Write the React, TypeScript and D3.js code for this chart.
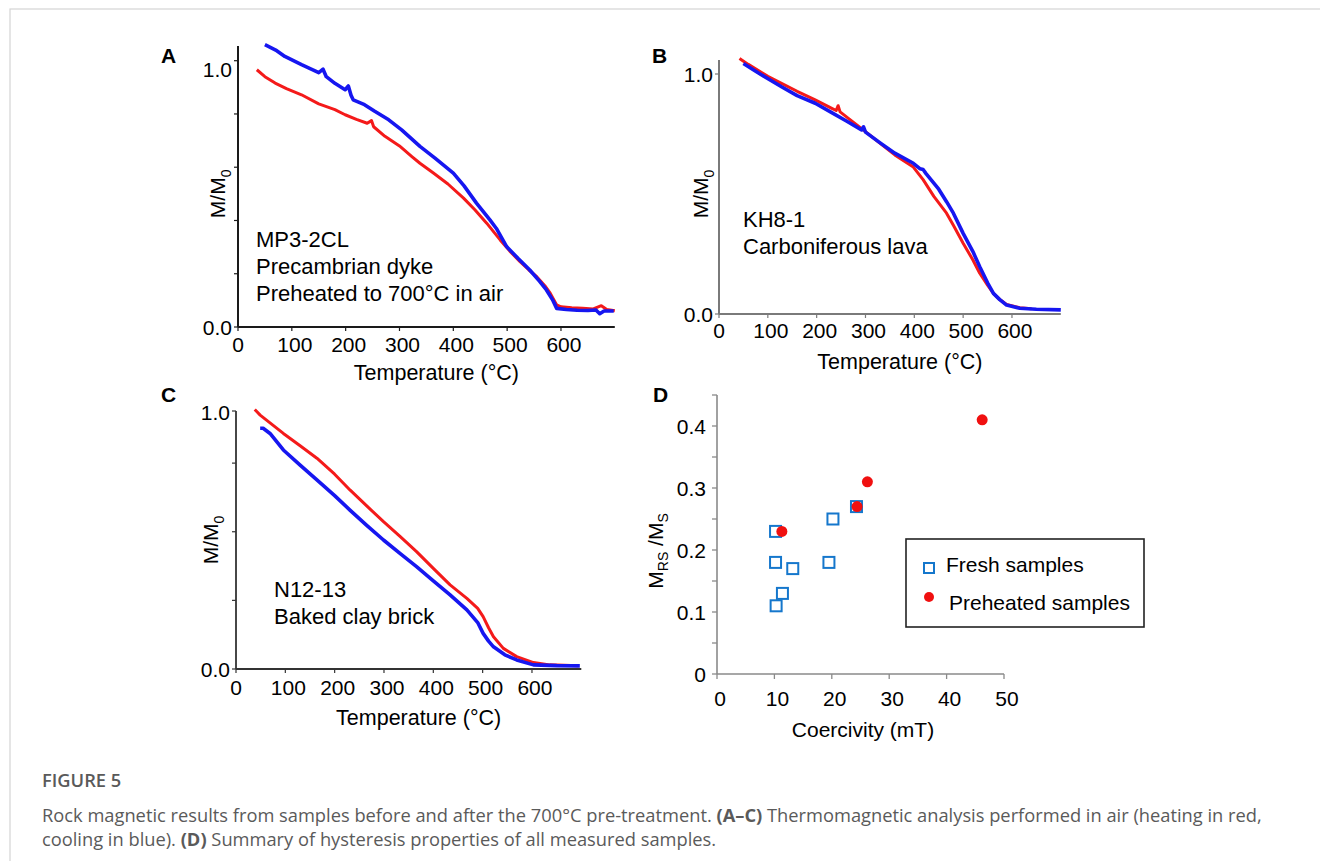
import React from "react";
import * as d3 from "d3";

// Panel A: MP3-2CL
const aHeatT = [35, 50, 69, 90, 118, 150, 180, 199, 220, 240, 248, 252, 273, 300, 323, 338, 363, 390, 419, 440, 462, 487, 505, 524, 540, 555, 570, 580, 592, 600, 620, 640, 660, 675, 685, 700];
const aHeatM = [0.966, 0.94, 0.916, 0.895, 0.872, 0.838, 0.816, 0.797, 0.78, 0.765, 0.775, 0.752, 0.716, 0.68, 0.64, 0.615, 0.578, 0.537, 0.484, 0.44, 0.39, 0.327, 0.285, 0.245, 0.215, 0.189, 0.155, 0.127, 0.083, 0.076, 0.072, 0.07, 0.068, 0.08, 0.066, 0.061];
const aCoolT = [50, 70, 87, 118, 140, 150, 158, 164, 180, 199, 205, 210, 214, 235, 254, 280, 304, 338, 366, 400, 420, 443, 468, 480, 499, 520, 542, 560, 573, 585, 592, 610, 630, 650, 665, 672, 680, 698];
const aCoolM = [1.06, 1.04, 1.016, 0.985, 0.965, 0.955, 0.968, 0.94, 0.915, 0.891, 0.905, 0.87, 0.853, 0.835, 0.81, 0.778, 0.74, 0.678, 0.634, 0.578, 0.53, 0.465, 0.402, 0.37, 0.302, 0.258, 0.214, 0.172, 0.139, 0.1, 0.07, 0.066, 0.063, 0.062, 0.064, 0.05, 0.06, 0.06];

// Panel B: KH8-1
const bHeatT = [42, 60, 100, 128, 160, 197, 230, 240, 244, 248, 265, 300, 330, 360, 398, 418, 440, 466, 480, 500, 520, 534, 550, 562, 575, 589, 616, 640];
const bHeatM = [1.065, 1.04, 0.99, 0.961, 0.928, 0.892, 0.858, 0.848, 0.868, 0.842, 0.815, 0.76, 0.711, 0.663, 0.612, 0.56, 0.49, 0.42, 0.37, 0.295, 0.225, 0.17, 0.12, 0.086, 0.06, 0.04, 0.026, 0.022];
const bCoolT = [50, 80, 128, 160, 197, 230, 260, 292, 296, 300, 330, 360, 398, 412, 418, 424, 450, 466, 480, 500, 520, 534, 550, 562, 575, 589, 616, 650, 700];
const bCoolM = [1.044, 1.005, 0.947, 0.91, 0.878, 0.84, 0.805, 0.767, 0.78, 0.758, 0.713, 0.67, 0.628, 0.605, 0.602, 0.585, 0.52, 0.468, 0.42, 0.336, 0.26, 0.197, 0.13, 0.086, 0.06, 0.037, 0.024, 0.02, 0.017];

// Panel C: N12-13
const cHeatT = [38, 49, 96, 130, 164, 200, 231, 265, 299, 333, 366, 400, 434, 468, 490, 501, 512, 522, 542, 569, 603, 636, 694];
const cHeatM = [1.006, 0.984, 0.913, 0.865, 0.817, 0.755, 0.694, 0.632, 0.571, 0.513, 0.455, 0.39, 0.326, 0.274, 0.235, 0.203, 0.16, 0.125, 0.08, 0.048, 0.025, 0.016, 0.013];
const cCoolT = [49, 55, 69, 96, 130, 164, 200, 231, 265, 299, 333, 366, 400, 434, 468, 490, 501, 512, 522, 545, 569, 603, 650, 697];
const cCoolM = [0.933, 0.933, 0.913, 0.849, 0.79, 0.733, 0.672, 0.616, 0.557, 0.5, 0.447, 0.397, 0.342, 0.287, 0.229, 0.18, 0.138, 0.108, 0.086, 0.055, 0.035, 0.016, 0.013, 0.012];

// Panel D: hysteresis summary
const freshX = [10.2, 10.2, 13.2, 11.4, 10.3, 20.2, 19.5, 24.3];
const freshY = [0.23, 0.18, 0.17, 0.13, 0.11, 0.25, 0.18, 0.27];
const preX = [11.3, 24.4, 26.2, 46.2];
const preY = [0.23, 0.27, 0.31, 0.41];

const tempTicks = [0, 100, 200, 300, 400, 500, 600];
const coerTicks = [0, 10, 20, 30, 40, 50];
const ratioTicks = [0, 0.1, 0.2, 0.3, 0.4];

const FONT = "'Liberation Sans', Arial, sans-serif";
const RED = "#f41a1a";
const BLUE = "#1616f0";

const zip = (t: number[], m: number[]) => t.map((v, i) => [v, m[i]] as [number, number]);

type PanelProps = {
  letter: string;
  x0: number; x1: number; y0: number; y1: number; yTop: number;
  heat: [number, number][];
  cool: [number, number][];
  minorY: number[];
  axisColor: string;
  axisWidth: number;
  lines: string[];
  noteX: number; noteY: number;
  letterX: number; letterY: number;
  oneDy: number;
  xLabDy: number;
  titleY: number;
  yLabX: number;
};

function ThermoPanel(p: PanelProps) {
  const x = d3.scaleLinear().domain([0, 700]).range([p.x0, p.x1]);
  const y = d3.scaleLinear().domain([0, 1]).range([p.y0, p.y1]);
  const line = d3.line<[number, number]>().x((d) => x(d[0])).y((d) => y(d[1]));
  const yMid = (y(0) + y(1)) / 2;
  return (
    <g fontFamily={FONT}>
      <text x={p.letterX} y={p.letterY} fontSize={21} fontWeight="bold">{p.letter}</text>
      <line x1={x(0)} x2={x(0)} y1={y(0)} y2={y(p.yTop)} stroke={p.axisColor} strokeWidth={p.axisWidth} />
      <line x1={x(0)} x2={x(700)} y1={y(0)} y2={y(0)} stroke={p.axisColor} strokeWidth={p.axisWidth} />
      {[0, 1, ...p.minorY].map((v, i) => (
        <line key={i} x1={x(0) - 4} x2={x(0)} y1={y(v)} y2={y(v)} stroke={p.axisColor} strokeWidth={1.2} />
      ))}
      {tempTicks.map((t) => (
        <line key={t} x1={x(t)} x2={x(t)} y1={y(0)} y2={y(0) + 4} stroke={p.axisColor} strokeWidth={1.2} />
      ))}
      <text x={x(0) - 6} y={y(1) + p.oneDy} fontSize={21} textAnchor="end" dominantBaseline="central">1.0</text>
      <text x={x(0) - 6} y={y(0)} fontSize={21} textAnchor="end" dominantBaseline="central">0.0</text>
      {tempTicks.map((t) => (
        <text key={t} x={x(t) + (t === 0 ? 0 : 3)} y={y(0) + p.xLabDy} fontSize={21} textAnchor="middle">{t}</text>
      ))}
      <text x={(x(0) + x(700)) / 2 + 10} y={p.titleY} fontSize={21.5} textAnchor="middle">Temperature (°C)</text>
      <text transform={`translate(${p.yLabX},${yMid}) rotate(-90)`} fontSize={21} textAnchor="middle">
        M/M<tspan fontSize={14} dy={6}>0</tspan>
      </text>
      <path d={line(p.heat) || ""} fill="none" stroke={RED} strokeWidth={3} strokeLinejoin="round" />
      <path d={line(p.cool) || ""} fill="none" stroke={BLUE} strokeWidth={3.6} strokeLinejoin="round" />
      {p.lines.map((s, i) => (
        <text key={i} x={p.noteX} y={p.noteY + i * 27} fontSize={22}>{s}</text>
      ))}
    </g>
  );
}

function ScatterPanel() {
  const x = d3.scaleLinear().domain([0, 50]).range([717, 1004]);
  const y = d3.scaleLinear().domain([0, 0.4]).range([674, 426]);
  const axis = "#8a8a8a";
  const minor = d3.range(0, 0.451, 0.05);
  const sq = 11;
  return (
    <g fontFamily={FONT}>
      <text x={653} y={402} fontSize={21} fontWeight="bold">D</text>
      <line x1={x(0)} x2={x(0)} y1={y(0)} y2={y(0.45)} stroke={axis} strokeWidth={1.6} />
      <line x1={x(0)} x2={x(50)} y1={y(0)} y2={y(0)} stroke={axis} strokeWidth={1.6} />
      {minor.map((v, i) => (
        <line key={i} x1={x(0) - 5} x2={x(0)} y1={y(v)} y2={y(v)} stroke={axis} strokeWidth={1.3} />
      ))}
      {coerTicks.map((c) => (
        <line key={c} x1={x(c)} x2={x(c)} y1={y(0)} y2={y(0) + 5} stroke={axis} strokeWidth={1.3} />
      ))}
      {ratioTicks.map((v) => (
        <text key={v} x={706} y={y(v)} fontSize={21} textAnchor="end" dominantBaseline="central">{v === 0 ? "0" : v.toFixed(1)}</text>
      ))}
      {coerTicks.map((c) => (
        <text key={c} x={x(c) + 3} y={706} fontSize={21} textAnchor="middle">{c}</text>
      ))}
      <text x={863} y={737} fontSize={21} textAnchor="middle">Coercivity (mT)</text>
      <text transform={`translate(663,551) rotate(-90)`} fontSize={21} textAnchor="middle">
        M<tspan fontSize={14} dy={5}>RS</tspan><tspan dy={-5}> /M</tspan><tspan fontSize={14} dy={5}>S</tspan>
      </text>
      {freshX.map((c, i) => (
        <rect key={i} x={x(c) - sq / 2} y={y(freshY[i]) - sq / 2} width={sq} height={sq} fill="none" stroke="#1577cc" strokeWidth={2} />
      ))}
      {preX.map((c, i) => (
        <circle key={i} cx={x(c)} cy={y(preY[i])} r={5.5} fill="#f01010" />
      ))}
      <rect x={906} y={539} width={238} height={88} fill="#fff" stroke="#222" strokeWidth={1.6} />
      <rect x={924} y={563} width={10} height={10} fill="none" stroke="#1577cc" strokeWidth={2} />
      <text x={946} y={572} fontSize={21}>Fresh samples</text>
      <circle cx={929} cy={597} r={5} fill="#f01010" />
      <text x={949} y={610} fontSize={21}>Preheated samples</text>
    </g>
  );
}

export default function App() {
  return (
    <svg width={1320} height={861} style={{ position: "absolute", left: 0, top: 0, background: "#fff" }}>
      <rect x={10} y={9} width={1330} height={900} fill="#fff" stroke="#d4d4d4" strokeWidth={1.2} />
      <ThermoPanel
        letter="A" x0={238} x1={614.8} y0={327} y1={60.7} yTop={1.055}
        heat={zip(aHeatT, aHeatM)} cool={zip(aCoolT, aCoolM)}
        minorY={[0.2, 0.4, 0.6, 0.8]} axisColor="#1a1a1a" axisWidth={2}
        lines={["MP3-2CL", "Precambrian dyke", "Preheated to 700°C in air"]}
        noteX={256} noteY={247} letterX={161} letterY={63} oneDy={9}
        xLabDy={25} titleY={380} yLabX={225}
      />
      <ThermoPanel
        letter="B" x0={719} x1={1060.8} y0={314} y1={74} yTop={1.058}
        heat={zip(bHeatT, bHeatM)} cool={zip(bCoolT, bCoolM)}
        minorY={[]} axisColor="#7a7a7a" axisWidth={2}
        lines={["KH8-1", "Carboniferous lava"]}
        noteX={743} noteY={227} letterX={652} letterY={63} oneDy={0}
        xLabDy={24} titleY={369} yLabX={708}
      />
      <ThermoPanel
        letter="C" x0={236} x1={581.3} y0={669} y1={411} yTop={1.0}
        heat={zip(cHeatT, cHeatM)} cool={zip(cCoolT, cCoolM)}
        minorY={[0.266, 0.532, 0.798]} axisColor="#333" axisWidth={1.8}
        lines={["N12-13", "Baked clay brick"]}
        noteX={274} noteY={597} letterX={161} letterY={402} oneDy={1}
        xLabDy={26} titleY={725} yLabX={218}
      />
      <ScatterPanel />
      <g fontFamily="'Open Sans', 'Noto Sans', sans-serif" fill="#5a5a5a">
        <text x={42} y={787} fontSize={18.3} fontWeight={600}>FIGURE 5</text>
        <text x={42} y={822} fontSize={18.3}>
          Rock magnetic results from samples before and after the 700°C pre-treatment. <tspan fontWeight="bold">(A–C)</tspan> Thermomagnetic analysis performed in air (heating in red,
        </text>
        <text x={42} y={846} fontSize={18.3}>
          cooling in blue). <tspan fontWeight="bold">(D)</tspan> Summary of hysteresis properties of all measured samples.
        </text>
      </g>
    </svg>
  );
}
